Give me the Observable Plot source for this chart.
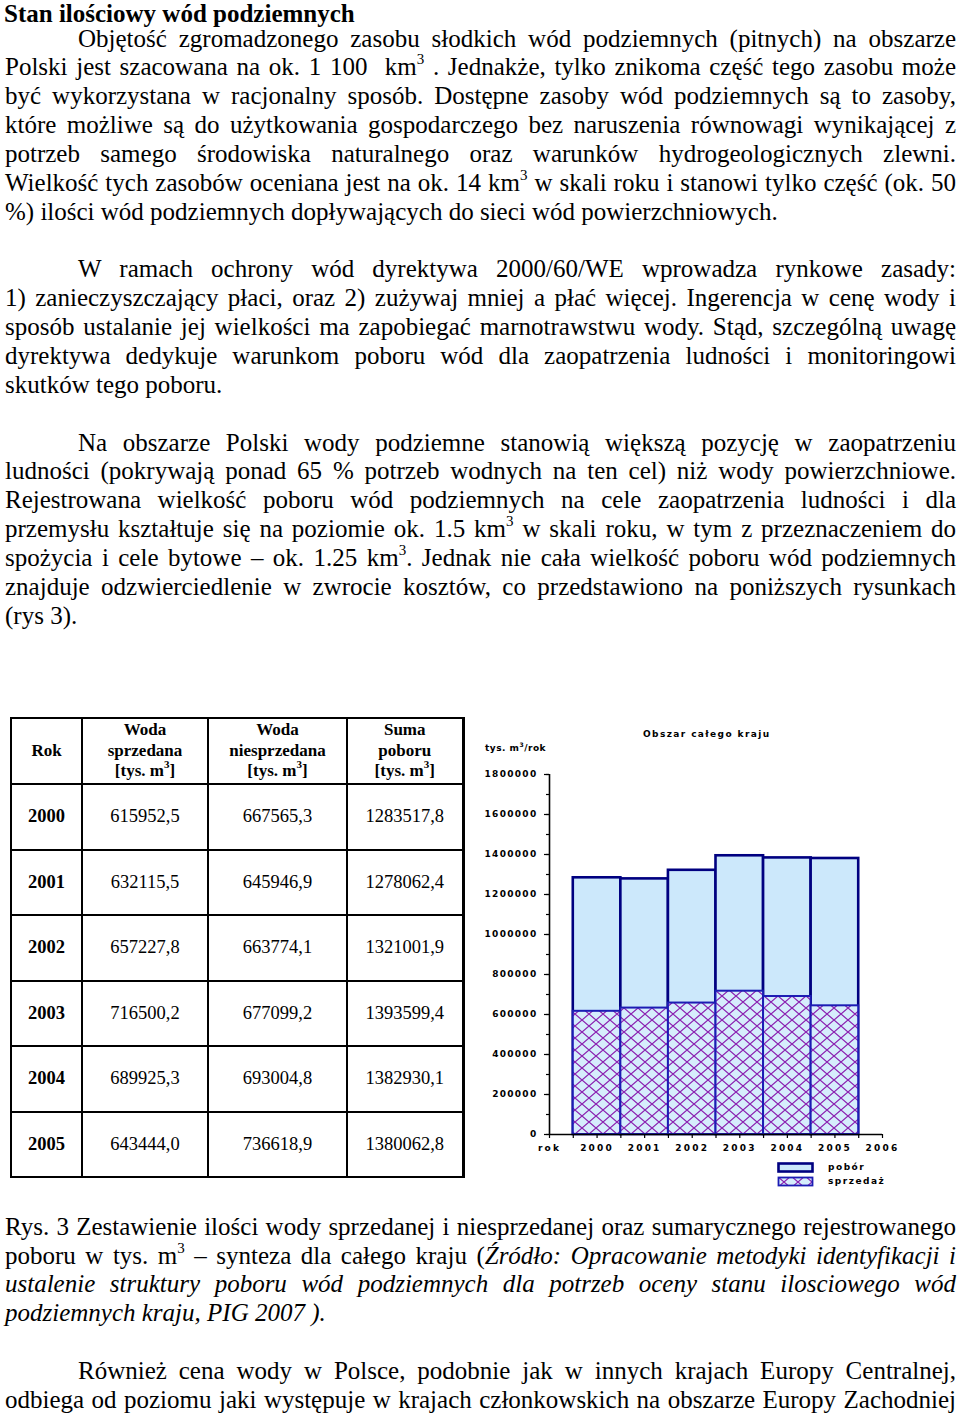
<!DOCTYPE html>
<html><head><meta charset="utf-8">
<script src="https://cdn.jsdelivr.net/npm/d3@7"></script>
<script src="https://cdn.jsdelivr.net/npm/@observablehq/plot@0.6"></script>
<style>
html,body{margin:0;padding:0;background:#fff;}
body{width:960px;height:1416px;position:relative;overflow:hidden;font-family:"Liberation Serif","Times New Roman",serif;color:#000;}
.blk{position:absolute;left:5px;width:951px;font-size:25px;line-height:28.85px;}
.ln{white-space:nowrap;text-align:justify;text-align-last:justify;height:28.85px;}
.ln.last{text-align-last:left;}
.ln.ind{padding-left:73px;}
.blk sup{font-size:15px;line-height:0;vertical-align:baseline;position:relative;top:-11px;}
#tbl{position:absolute;left:10px;top:717px;border-collapse:collapse;table-layout:fixed;}
#tbl td,#tbl th{border:2px solid #000;text-align:center;vertical-align:middle;padding:0;}
#tbl th{font-size:17px;line-height:20.5px;font-weight:bold;height:64px;}
#tbl td{font-size:18.5px;height:63.5px;}
#tbl td.yr{font-weight:bold;}
#tbl th sup{font-size:11px;line-height:0;position:relative;top:-8px;vertical-align:baseline;}
#tbl tr > :last-child{border-right-width:3px;}
.ch{position:absolute;font-family:"DejaVu Sans",sans-serif;font-weight:bold;font-size:9px;white-space:nowrap;line-height:10px;}
.ch sup{font-size:6px;line-height:0;position:relative;top:-4px;vertical-align:baseline;}
#chart{position:absolute;left:470px;top:756px;}
</style>
</head><body>

<div class="blk" style="top:0px;left:4px;font-weight:bold;"><div class="ln last">Stan ilościowy wód podziemnych</div></div>

<div class="blk" style="top:24.6px;">
<div class="ln ind">Objętość zgromadzonego zasobu słodkich wód podziemnych (pitnych) na obszarze</div>
<div class="ln">Polski jest szacowana na ok. 1 100 &nbsp;km<sup>3</sup> . Jednakże, tylko znikoma część tego zasobu może</div>
<div class="ln">być wykorzystana w racjonalny sposób. Dostępne zasoby wód podziemnych są to zasoby,</div>
<div class="ln">które możliwe są do użytkowania gospodarczego bez naruszenia równowagi wynikającej z</div>
<div class="ln">potrzeb samego środowiska naturalnego oraz warunków hydrogeologicznych zlewni.</div>
<div class="ln">Wielkość tych zasobów oceniana jest na ok. 14 km<sup>3</sup> w skali roku i stanowi tylko część (ok. 50</div>
<div class="ln last">%) ilości wód podziemnych dopływających do sieci wód powierzchniowych.</div>
</div>

<div class="blk" style="top:255.4px;">
<div class="ln ind">W ramach ochrony wód dyrektywa 2000/60/WE wprowadza rynkowe zasady:</div>
<div class="ln">1) zanieczyszczający płaci, oraz 2) zużywaj mniej a płać więcej. Ingerencja w cenę wody i</div>
<div class="ln">sposób ustalanie jej wielkości ma zapobiegać marnotrawstwu wody. Stąd, szczególną uwagę</div>
<div class="ln">dyrektywa dedykuje warunkom poboru wód dla zaopatrzenia ludności i monitoringowi</div>
<div class="ln last">skutków tego poboru.</div>
</div>

<div class="blk" style="top:428.5px;">
<div class="ln ind">Na obszarze Polski wody podziemne stanowią większą pozycję w zaopatrzeniu</div>
<div class="ln">ludności (pokrywają ponad 65 % potrzeb wodnych na ten cel) niż wody powierzchniowe.</div>
<div class="ln">Rejestrowana wielkość poboru wód podziemnych na cele zaopatrzenia ludności i dla</div>
<div class="ln">przemysłu kształtuje się na poziomie ok. 1.5 km<sup>3</sup> w skali roku, w tym z przeznaczeniem do</div>
<div class="ln">spożycia i cele bytowe – ok. 1.25 km<sup>3</sup>. Jednak nie cała wielkość poboru wód podziemnych</div>
<div class="ln">znajduje odzwierciedlenie w zwrocie kosztów, co przedstawiono na poniższych rysunkach</div>
<div class="ln last">(rys 3).</div>
</div>

<table id="tbl"></table>

<div class="ch" id="ctitle" style="left:643px;top:729px;letter-spacing:1.4px;">Obszar całego kraju</div>
<div class="ch" id="cunit" style="left:485px;top:743px;letter-spacing:0.5px;">tys. m<sup>3</sup>/rok</div>
<div id="chart"></div>
<div id="legend"></div>

<div class="blk" style="top:1212.8px;">
<div class="ln">Rys. 3 Zestawienie ilości wody sprzedanej i niesprzedanej oraz sumarycznego rejestrowanego</div>
<div class="ln">poboru w tys. m<sup>3</sup> – synteza dla całego kraju (<i>Źródło: Opracowanie metodyki identyfikacji i</i></div>
<div class="ln"><i>ustalenie struktury poboru wód podziemnych dla potrzeb oceny stanu ilosciowego wód</i></div>
<div class="ln last"><i>podziemnych kraju, PIG 2007 ).</i></div>
</div>

<div class="blk" style="top:1357.1px;">
<div class="ln ind">Również cena wody w Polsce, podobnie jak w innych krajach Europy Centralnej,</div>
<div class="ln">odbiega od poziomu jaki występuje w krajach członkowskich na obszarze Europy Zachodniej</div>
</div>

<script>
// ---- data ----
const years = [2000, 2001, 2002, 2003, 2004, 2005];
const sold = [615952.5, 632115.5, 657227.8, 716500.2, 689925.3, 643444.0];
const unsold = [667565.3, 645946.9, 663774.1, 677099.2, 693004.8, 736618.9];
const total = [1283517.8, 1278062.4, 1321001.9, 1393599.4, 1382930.1, 1380062.8];
const tableHeaders = ["Rok", "Woda<br>sprzedana<br>[tys. m<sup>3</sup>]", "Woda<br>niesprzedana<br>[tys. m<sup>3</sup>]", "Suma<br>poboru<br>[tys. m<sup>3</sup>]"];
const yTickValues = [0, 200000, 400000, 600000, 800000, 1000000, 1200000, 1400000, 1600000, 1800000];
const yMinorStep = 100000;
const xTickValues = [1999, 2000, 2001, 2002, 2003, 2004, 2005, 2006];
const xTickLabels = ["rok", "2000", "2001", "2002", "2003", "2004", "2005", "2006"];
const seriesNames = ["pobór", "sprzedaż"];

// ---- table ----
const fmt = v => v.toFixed(1).replace(".", ",");
const colW = [71, 126, 139, 116];
const tbl = document.getElementById("tbl");
tbl.style.width = d3.sum(colW) + "px";
const cg = document.createElement("colgroup");
colW.forEach(w => { const c = document.createElement("col"); c.style.width = w + "px"; cg.appendChild(c); });
tbl.appendChild(cg);
let tr = document.createElement("tr");
tableHeaders.forEach(h => { const th = document.createElement("th"); th.innerHTML = h; tr.appendChild(th); });
tbl.appendChild(tr);
years.forEach((y, i) => {
  const r = document.createElement("tr");
  [[String(y), "yr"], [fmt(sold[i]), ""], [fmt(unsold[i]), ""], [fmt(total[i]), ""]].forEach(([t, c]) => {
    const td = document.createElement("td"); td.textContent = t; if (c) td.className = c; r.appendChild(td);
  });
  tbl.appendChild(r);
});

// ---- chart ----
const rows = years.map((y, i) => ({year: y, sold: sold[i], total: total[i]}));
const fillLight = "#cce8fb";
const strokeDark = "#000080";
const strokeSold = "#1c1cb4";
const chart = Plot.plot({
  width: 490, height: 402,
  marginLeft: 79, marginRight: 78, marginTop: 18, marginBottom: 24,
  style: {fontFamily: "'DejaVu Sans', sans-serif", fontSize: "9px", fontWeight: "bold", color: "#000", background: "transparent", overflow: "visible"},
  x: {domain: [xTickValues[0], xTickValues[xTickValues.length - 1]], axis: null},
  y: {domain: [0, yTickValues[yTickValues.length - 1]], axis: null},
  marks: [
    Plot.rect(rows, {x1: d => d.year - 0.5, x2: d => d.year + 0.5, y1: 0, y2: "total", fill: fillLight, stroke: strokeDark, strokeWidth: 2.6}),
    Plot.rect(rows, {x1: d => d.year - 0.5, x2: d => d.year + 0.5, y1: 0, y2: "sold", fill: "url(#hatch)", stroke: strokeSold, strokeWidth: 2}),
    Plot.axisY({ticks: d3.range(0, yTickValues[yTickValues.length - 1] + 1, yMinorStep), tickSize: 3, tickFormat: () => "", label: null, strokeWidth: 1.2}),
    Plot.axisY({ticks: yTickValues, tickSize: 5, tickPadding: 7, tickFormat: d => String(d), label: null, strokeWidth: 1.2}),
    Plot.axisX({ticks: d3.range(xTickValues[0], xTickValues[xTickValues.length - 1] + 0.01, 0.5), tickSize: 4, tickFormat: () => "", label: null, strokeWidth: 1.2}),
    Plot.axisX({ticks: xTickValues, tickSize: 0, tickPadding: 10, tickFormat: (d, i) => xTickLabels[xTickValues.indexOf(d)], label: null}),
    Plot.ruleX([xTickValues[0]], {y1: 0, y2: yTickValues[yTickValues.length - 1], stroke: "#000", strokeWidth: 1.6}),
    Plot.ruleY([0], {x1: xTickValues[0], x2: xTickValues[xTickValues.length - 1], stroke: "#000", strokeWidth: 1.6})
  ]
});
const defs = d3.select(chart).insert("defs", ":first-child");
const pat = defs.append("pattern").attr("id", "hatch").attr("patternUnits", "userSpaceOnUse").attr("width", 14).attr("height", 12);
pat.append("rect").attr("width", 14).attr("height", 12).attr("fill", "#d6edfc");
pat.append("path").attr("d", "M0,0L14,12M14,0L0,12").attr("stroke", "#8a1fb0").attr("stroke-width", 1.2).attr("fill", "none");
chart.querySelectorAll('g[aria-label="x-axis tick label"]').forEach(g => g.style.letterSpacing = "2.2px");
chart.querySelectorAll('g[aria-label="y-axis tick label"]').forEach(g => g.style.letterSpacing = "1.3px");
document.getElementById("chart").appendChild(chart);

// ---- legend ----
const legend = document.getElementById("legend");
const swatch = [
  {fill: fillLight, stroke: strokeDark, sw: 2.6},
  {fill: "url(#hatch)", stroke: strokeSold, sw: 1.8}
];
seriesNames.forEach((name, i) => {
  const top = 1162 + i * 14;
  const s = document.createElementNS("http://www.w3.org/2000/svg", "svg");
  s.setAttribute("width", 37); s.setAttribute("height", 11);
  s.style.position = "absolute"; s.style.left = "777px"; s.style.top = top + "px";
  const r = document.createElementNS("http://www.w3.org/2000/svg", "rect");
  r.setAttribute("x", 1.5); r.setAttribute("y", 1.5); r.setAttribute("width", 34); r.setAttribute("height", 8);
  r.setAttribute("fill", swatch[i].fill); r.setAttribute("stroke", swatch[i].stroke); r.setAttribute("stroke-width", swatch[i].sw);
  s.appendChild(r);
  legend.appendChild(s);
  const t = document.createElement("div");
  t.className = "ch"; t.textContent = name;
  t.style.left = "828px"; t.style.top = (top) + "px"; t.style.letterSpacing = "1.5px";
  legend.appendChild(t);
});
</script>
</body></html>
